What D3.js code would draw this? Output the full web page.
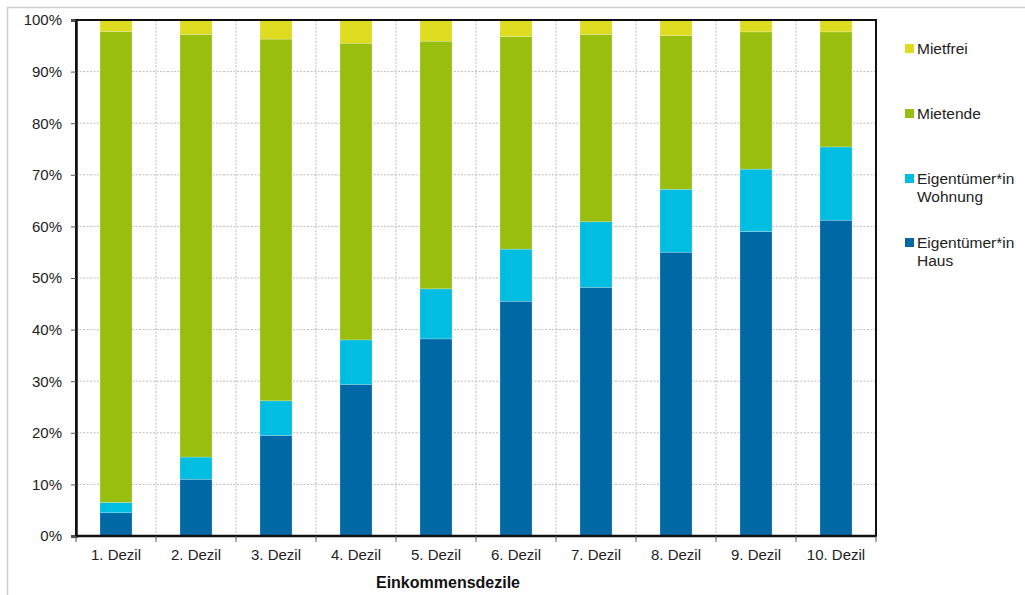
<!DOCTYPE html>
<html><head><meta charset="utf-8">
<script src="https://cdn.jsdelivr.net/npm/d3@7"></script>
<style>body{margin:0;background:#fff}svg{display:block;font-family:"Liberation Sans",Arial,sans-serif}</style>
</head><body><svg id="c" width="1025" height="595"></svg>
<script>
const categories = ["1. Dezil","2. Dezil","3. Dezil","4. Dezil","5. Dezil","6. Dezil","7. Dezil","8. Dezil","9. Dezil","10. Dezil"];
const seriesNames = ["Eigentümer*in Haus","Eigentümer*in Wohnung","Mietende","Mietfrei"];
const haus     = [4.5, 11.0, 19.5, 29.4, 38.2, 45.5, 48.2, 55.0, 59.0, 61.2];
const wohnung  = [2.0, 4.3, 6.7, 8.6, 9.7, 10.1, 12.7, 12.2, 12.1, 14.2];
const mietende = [91.3, 81.9, 70.1, 57.5, 48.0, 41.2, 36.3, 29.8, 26.6, 22.3];
const mietfrei = [2.2, 2.8, 3.7, 4.5, 4.1, 3.2, 2.8, 3.0, 2.3, 2.3];
const yTicks = [0,10,20,30,40,50,60,70,80,90,100];
const colors = ["#0069A5","#00BEE1","#98BF0F","#DEDC1E"];

const svg = d3.select("#c");
const L=76, R=876, T=20, B=536;
svg.append("rect").attr("x",7.5).attr("y",7.5).attr("width",1030).attr("height",600)
  .attr("fill","none").attr("stroke","#cfcfcf").attr("stroke-width",1.5);

const x = d3.scaleBand().domain(categories).range([L,R]).paddingInner(0.6).paddingOuter(0.3);
const xb = d3.scaleBand().domain(categories).range([L,R]);
const y = d3.scaleLinear().domain([0,100]).range([B,T]);

const g = svg.append("g");
// grid
g.selectAll(".hg").data(yTicks.slice(1,-1)).join("line")
  .attr("x1",L).attr("x2",R).attr("y1",d=>y(d)).attr("y2",d=>y(d))
  .attr("stroke","#bdbdbd").attr("stroke-dasharray","2,1.5").attr("stroke-width",1);
g.selectAll(".vg").data(categories.slice(1)).join("line")
  .attr("x1",d=>xb(d)).attr("x2",d=>xb(d)).attr("y1",T).attr("y2",B)
  .attr("stroke","#bdbdbd").attr("stroke-dasharray","2,1.5").attr("stroke-width",1);

const table = categories.map((c,i)=>({cat:c, s0:haus[i], s1:wohnung[i], s2:mietende[i], s3:mietfrei[i]}));
const stack = d3.stack().keys(["s0","s1","s2","s3"])(table);
g.selectAll(".layer").data(stack).join("g").attr("fill",(d,i)=>colors[i])
  .selectAll("rect").data(d=>d).join("rect")
  .attr("x",d=>x(d.data.cat)).attr("width",x.bandwidth())
  .attr("y",d=>y(Math.min(100,d[1]))).attr("height",d=>y(d[0])-y(Math.min(100,d[1])))
  .attr("stroke","rgba(255,255,255,0.35)").attr("stroke-width",0.6);

// frame
svg.append("rect").attr("x",L).attr("y",T).attr("width",R-L).attr("height",B-T)
  .attr("fill","none").attr("stroke","#111").attr("stroke-width",2);

// y axis
const ya = svg.append("g").attr("transform",`translate(${L},0)`)
  .call(d3.axisLeft(y).tickValues(yTicks).tickFormat(d=>d+"%").tickSize(5).tickPadding(9));
ya.select(".domain").attr("stroke","#111").attr("stroke-width",2.5);
ya.selectAll(".tick line").attr("stroke","#555");
ya.selectAll("text").attr("font-size",15).attr("fill","#222").attr("font-family","Liberation Sans, Arial, sans-serif");

// x axis
const xa = svg.append("g").attr("transform",`translate(0,${B})`)
  .call(d3.axisBottom(x).tickSize(0).tickPadding(13));
xa.select(".domain").attr("stroke","#111").attr("stroke-width",2.5).attr("d",`M${L},0H${R}`);
xa.selectAll("text").attr("font-size",15).attr("fill","#222").attr("font-family","Liberation Sans, Arial, sans-serif");
svg.append("g").selectAll("line").data(categories.concat(["end"])).join("line")
  .attr("x1",(d,i)=>L+i*xb.bandwidth()).attr("x2",(d,i)=>L+i*xb.bandwidth())
  .attr("y1",B).attr("y2",B+6).attr("stroke","#555");

svg.append("text").attr("x",448).attr("y",588).attr("text-anchor","middle")
  .attr("font-size",16).attr("font-weight","bold").attr("fill","#111").text("Einkommensdezile");

// legend
const leg = [
  {name:"Mietfrei", lines:["Mietfrei"], c:colors[3], y:48},
  {name:"Mietende", lines:["Mietende"], c:colors[2], y:113},
  {name:"Eigentümer*in Wohnung", lines:["Eigentümer*in","Wohnung"], c:colors[1], y:178},
  {name:"Eigentümer*in Haus", lines:["Eigentümer*in","Haus"], c:colors[0], y:242}
];
const lg = svg.append("g");
leg.forEach(l=>{
  lg.append("rect").attr("x",905).attr("y",l.y-4).attr("width",9).attr("height",9).attr("fill",l.c);
  const t = lg.append("text").attr("x",917).attr("y",l.y+5.5).attr("font-size",15.5).attr("fill","#222");
  l.lines.forEach((s,i)=>t.append("tspan").attr("x",917).attr("dy",i?18:0).text(s));
});
</script></body></html>
